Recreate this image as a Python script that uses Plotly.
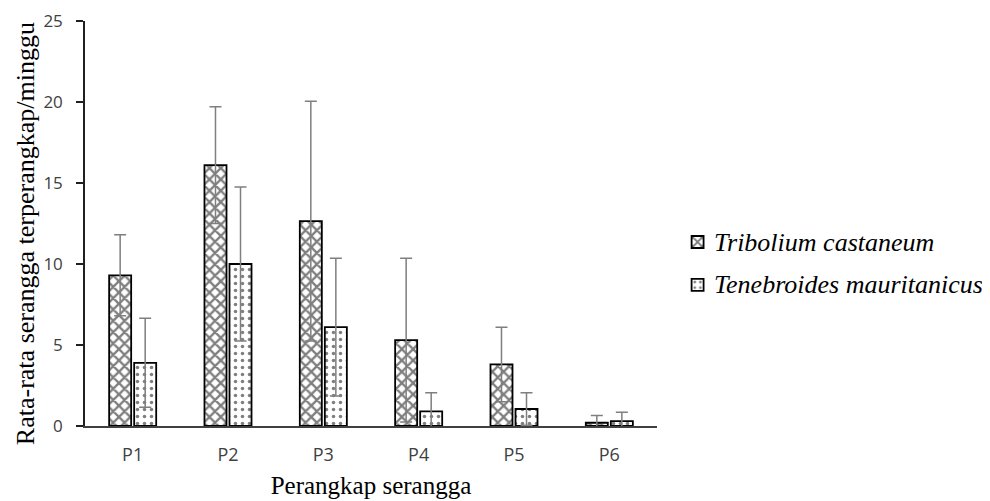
import plotly.graph_objects as go

categories = ["P1", "P2", "P3", "P4", "P5", "P6"]
tribolium = [9.3, 16.1, 12.65, 5.3, 3.8, 0.2]
tribolium_err = [2.5, 3.6, 7.4, 5.05, 2.3, 0.45]
tenebroides = [3.9, 10.0, 6.1, 0.9, 1.05, 0.3]
tenebroides_err = [2.75, 4.75, 4.25, 1.15, 1.0, 0.55]
y_ticks = [0, 5, 10, 15, 20, 25]
series_names = ["Tribolium castaneum", "Tenebroides mauritanicus"]

serif = "Liberation Serif"
sans = "Open Sans"

fig = go.Figure()
err_style = dict(type="data", color="#7f7f7f", thickness=1.5, width=6)
fig.add_trace(go.Bar(
    x=categories, y=tribolium, name="\u00a0",
    error_y=dict(array=tribolium_err, **err_style),
    marker=dict(color="white", line=dict(color="black", width=1.8),
                pattern=dict(shape="x", fgcolor="black", bgcolor="white", size=8, solidity=0.5)),
    legendgroup="a",
))
fig.add_trace(go.Bar(
    x=categories, y=tenebroides, name="\u00a0",
    error_y=dict(array=tenebroides_err, **err_style),
    marker=dict(color="white", line=dict(color="black", width=1.8),
                pattern=dict(shape=".", fgcolor="black", bgcolor="white", size=7, solidity=0.2)),
    legendgroup="b",
))

fig.update_layout(
    width=990, height=501,
    font=dict(family=serif, color="black"),
    margin=dict(l=77, r=341, t=13, b=83, autoexpand=False),
    plot_bgcolor="white", paper_bgcolor="white",
    barmode="group", bargap=0.475, bargroupgap=0.12,
    showlegend=True,
    legend=dict(x=1.036, y=0.401, xanchor="left", yanchor="middle",
                font=dict(family=serif, size=26, color="black"),
                tracegroupgap=6, itemwidth=30),
    xaxis=dict(showline=True, linecolor="#404040", linewidth=1.5, ticks="", automargin=False,
               ticklabelstandoff=12,
               tickfont=dict(family=sans, size=18, color="#404040"),
               title=dict(text="Perangkap serangga", font=dict(family=serif, size=25, color="black"), standoff=11)),
    yaxis=dict(range=[0, 25.0001], tickvals=y_ticks, showgrid=False, zeroline=False, automargin=False,
               showline=True, linecolor="#202020", linewidth=1.5, ticks="outside", ticklen=7,
               tickcolor="#202020", tickwidth=1.5, ticklabelstandoff=10, ticklabeloverflow="allow",
               tickfont=dict(family=sans, size=17, color="#404040")),
)
fig.add_annotation(x=-0.104, y=0.475, xref="paper", yref="paper", showarrow=False,
                   textangle=-90, xanchor="center", yanchor="middle",
                   text="Rata-rata serangga terperangkap/minggu",
                   font=dict(family=serif, size=26, color="black"))
for name, yy in zip(series_names, [0.453, 0.350]):
    fig.add_annotation(x=1.096, y=yy, xref="paper", yref="paper", showarrow=False,
                       xanchor="left", yanchor="middle", text="<i>" + name + "</i>",
                       font=dict(family=serif, size=26, color="black"))
fig.write_html("out.html")
